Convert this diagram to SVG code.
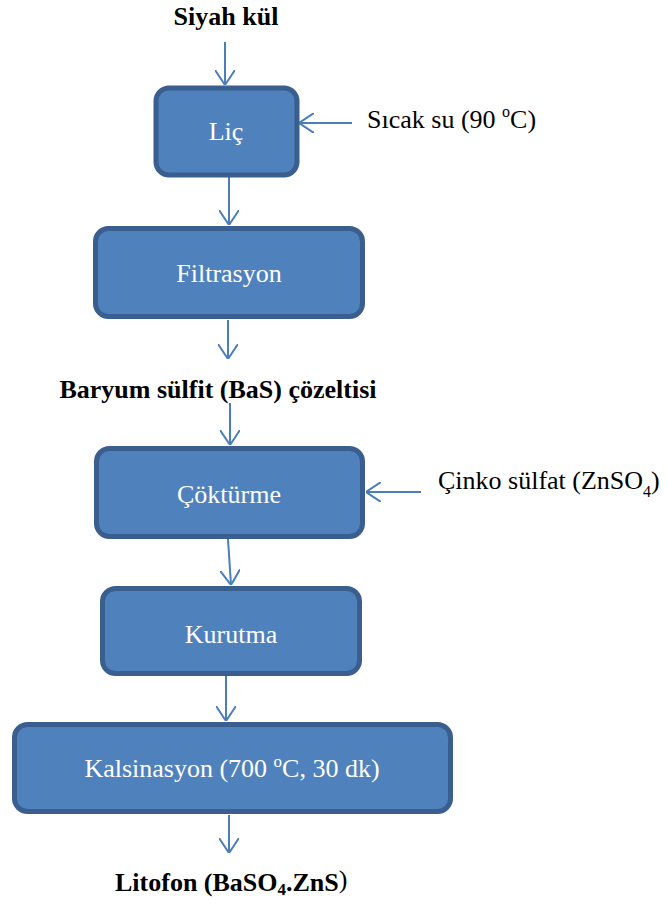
<svg xmlns="http://www.w3.org/2000/svg" width="668" height="903" viewBox="0 0 668 903">
  <style>
    .box { fill: #4F81BD; stroke: #3A5F8F; stroke-width: 5; }
    .btxt { font-family: 'Liberation Serif', 'Times New Roman', serif; font-size: 26px; fill: #FFFFFF; text-anchor: middle; }
    .lbl { font-family: 'Liberation Serif', 'Times New Roman', serif; font-size: 26px; fill: #000000; }
    .bold { font-weight: bold; }
    .conn { stroke: #4A7EBB; stroke-width: 2; fill: none; marker-end: url(#vhead); }
  </style>
  <defs>
    <marker id="vhead" viewBox="0 0 15 20" refX="15" refY="10" markerWidth="15" markerHeight="20" markerUnits="userSpaceOnUse" orient="auto">
      <path d="M0,0 L15,10 L0,20" fill="none" stroke="#4A7EBB" stroke-width="2"/>
    </marker>
  </defs>

  <rect width="668" height="903" fill="#FFFFFF"/>

  <!-- connectors -->
  <g id="connectors">
    <line class="conn" x1="225" y1="42" x2="225" y2="85"/>
    <line class="conn" x1="352" y1="123" x2="299" y2="123"/>
    <line class="conn" x1="229" y1="177" x2="229" y2="225"/>
    <line class="conn" x1="228" y1="320" x2="228" y2="359"/>
    <line class="conn" x1="230" y1="403" x2="230" y2="445"/>
    <line class="conn" x1="421" y1="492" x2="366" y2="492"/>
    <line class="conn" x1="228" y1="539" x2="231" y2="585"/>
    <line class="conn" x1="226" y1="676" x2="226" y2="721"/>
    <line class="conn" x1="229" y1="815" x2="229" y2="853"/>
  </g>

  <!-- free labels -->
  <g id="label-siyah-kul">
    <text class="lbl bold" x="226" y="25" text-anchor="middle">Siyah kül</text>
  </g>
  <g id="label-sicak-su">
    <text class="lbl" x="367" y="128">Sıcak su (90 <tspan font-size="16" dy="-11">o</tspan><tspan dy="11">C)</tspan></text>
  </g>
  <g id="label-baryum">
    <text class="lbl bold" x="218" y="398" text-anchor="middle">Baryum sülfit (BaS) çözeltisi</text>
  </g>
  <g id="label-cinko">
    <text class="lbl" x="438" y="489">Çinko sülfat (ZnSO<tspan font-size="16" dy="8">4</tspan><tspan dy="-8">)</tspan></text>
  </g>
  <g id="label-litofon">
    <text class="lbl bold" x="115" y="891">Litofon (BaSO<tspan font-size="17" dy="4">4</tspan><tspan dy="-4">.ZnS</tspan><tspan font-weight="normal" dy="-3">)</tspan></text>
  </g>

  <!-- process steps -->
  <g id="node-lic">
    <rect class="box" x="156" y="88" width="141" height="87" rx="13"/>
    <text class="btxt" x="226" y="140">Liç</text>
  </g>
  <g id="node-filtrasyon">
    <rect class="box" x="95.5" y="228.5" width="267" height="88" rx="13"/>
    <text class="btxt" x="229" y="282">Filtrasyon</text>
  </g>
  <g id="node-cokturme">
    <rect class="box" x="96.5" y="448.5" width="266" height="88" rx="13"/>
    <text class="btxt" x="229" y="503">Çöktürme</text>
  </g>
  <g id="node-kurutma">
    <rect class="box" x="102.5" y="588.5" width="257" height="85" rx="13"/>
    <text class="btxt" x="231" y="643">Kurutma</text>
  </g>
  <g id="node-kalsinasyon">
    <rect class="box" x="14.5" y="724.5" width="436" height="87" rx="13"/>
    <text class="btxt" x="232" y="777">Kalsinasyon (700 <tspan font-size="17" dy="-10">o</tspan><tspan dy="10">C, 30 dk)</tspan></text>
  </g>
</svg>
